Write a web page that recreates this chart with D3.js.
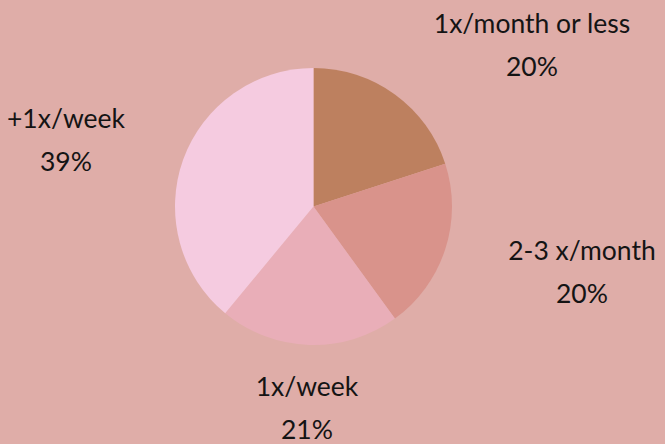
<!DOCTYPE html>
<html><head><meta charset="utf-8">
<script src="https://cdn.jsdelivr.net/npm/d3@7"></script>
<style>html,body{margin:0;padding:0;background:#DFADA8;}svg{display:block;}</style>
</head><body>
<svg id="chart" width="665" height="444"></svg>
<script>
const categories = ["1x/month or less", "2-3 x/month", "1x/week", "+1x/week"];
const values = [20, 20, 21, 39];
const pctLabels = ["20%", "20%", "21%", "39%"];
const colors = ["#BD805F", "#D9938B", "#E9AEB8", "#F5CBE0"];
// label anchor positions (layout)
const labelPos = [[532, 33], [582, 260], [307, 396], [66, 128]];

const svg = d3.select("#chart");
svg.append("rect").attr("width", 665).attr("height", 444).attr("fill", "#DFADA8");
const cx = 313.5, cy = 206.5, r = 138.5;
const pie = d3.pie().sort(null).value(d => d)(values);
const arc = d3.arc().innerRadius(0).outerRadius(r);
const g = svg.append("g").attr("transform", `translate(${cx},${cy})`);
g.selectAll("path").data(pie).join("path")
  .attr("d", arc).attr("fill", (d, i) => colors[i]);

const lg = svg.append("g").attr("font-family", "Lato, sans-serif").attr("font-size", 26.5).attr("fill", "#141414").attr("text-anchor", "middle");
categories.forEach((c, i) => {
  const t = lg.append("text").attr("x", labelPos[i][0]).attr("y", labelPos[i][1]);
  t.append("tspan").attr("x", labelPos[i][0]).text(c);
  t.append("tspan").attr("x", labelPos[i][0]).attr("dy", 43).text(pctLabels[i]);
});
</script>
</body></html>
